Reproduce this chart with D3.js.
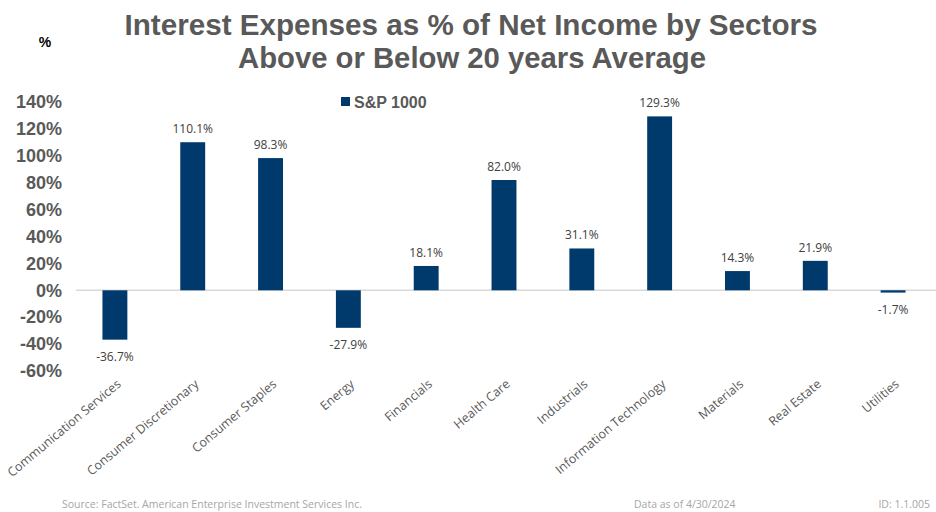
<!DOCTYPE html>
<html>
<head>
<meta charset="utf-8">
<script src="https://cdn.jsdelivr.net/npm/d3@7"></script>
<style>
  body { margin: 0; background: #fff; }
</style>
</head>
<body>
<div id="chart"></div>
<script>
// sectors and their values (% above/below 20y average)
var sectors = ["Communication Services", "Consumer Discretionary", "Consumer Staples", "Energy",
  "Financials", "Health Care", "Industrials", "Information Technology", "Materials", "Real Estate", "Utilities"];
var values = [-36.7, 110.1, 98.3, -27.9, 18.1, 82.0, 31.1, 129.3, 14.3, 21.9, -1.7];
var yTicks = [-60, -40, -20, 0, 20, 40, 60, 80, 100, 120, 140];
var seriesName = "S&P 1000";

var width = 936, height = 512;
var svg = d3.select("#chart").append("svg")
  .attr("width", width)
  .attr("height", height)
  .style("font-family", "'Liberation Sans', Arial, sans-serif");

var data = sectors.map(function(s, i) { return { sector: s, value: values[i] }; });

// scales
var x = d3.scaleBand()
  .domain(sectors)
  .range([76, 932])
  .paddingInner(0.68)
  .paddingOuter(0.34);

var y = d3.scaleLinear()
  .domain([-60, 140])
  .range([371, 102]);

// title
svg.append("text")
  .attr("x", 471).attr("y", 35)
  .attr("text-anchor", "middle")
  .attr("font-size", 29).attr("font-weight", "bold")
  .attr("fill", "#595959")
  .attr("textLength", 693).attr("lengthAdjust", "spacingAndGlyphs")
  .text("Interest Expenses  as % of Net Income by Sectors");
svg.append("text")
  .attr("x", 472).attr("y", 68)
  .attr("text-anchor", "middle")
  .attr("font-size", 29).attr("font-weight", "bold")
  .attr("fill", "#595959")
  .attr("textLength", 468).attr("lengthAdjust", "spacingAndGlyphs")
  .text("Above or Below 20 years Average");

// unit label
svg.append("text")
  .attr("x", 45).attr("y", 47)
  .attr("text-anchor", "middle")
  .attr("font-size", 14).attr("font-weight", "bold")
  .attr("fill", "#000")
  .text("%");

// y axis (labels only)
var yAxis = d3.axisLeft(y).tickValues(yTicks).tickSize(0).tickPadding(0)
  .tickFormat(function(d) { return d + "%"; });
var yg = svg.append("g").attr("transform", "translate(62,0)").call(yAxis);
yg.select(".domain").remove();
yg.selectAll("text")
  .style("font-family", "'Liberation Sans', Arial, sans-serif")
  .attr("font-size", 18).attr("font-weight", "bold")
  .attr("fill", "#595959");

// zero line
svg.append("line")
  .attr("x1", 76).attr("x2", 936)
  .attr("y1", y(0)).attr("y2", y(0))
  .attr("stroke", "#d9d9d9").attr("stroke-width", 1.5);

// bars
svg.selectAll("rect.bar")
  .data(data)
  .enter().append("rect")
  .attr("class", "bar")
  .attr("x", function(d) { return x(d.sector); })
  .attr("width", x.bandwidth())
  .attr("y", function(d) { return d.value >= 0 ? y(d.value) : y(0); })
  .attr("height", function(d) { return Math.abs(y(d.value) - y(0)); })
  .attr("fill", "#003A6C");

// data labels
svg.selectAll("text.val")
  .data(data)
  .enter().append("text")
  .attr("class", "val")
  .attr("x", function(d) { return x(d.sector) + x.bandwidth() / 2; })
  .attr("y", function(d) { return d.value >= 0 ? y(d.value) - 9 : y(d.value) + 21; })
  .attr("text-anchor", "middle")
  .style("font-family", "'Open Sans', sans-serif")
  .attr("font-size", 12)
  .attr("fill", "#404040")
  .text(function(d) { return d.value.toFixed(1) + "%"; });

// x axis labels, rotated
var xAxis = d3.axisBottom(x).tickSize(0).tickPadding(0);
var xg = svg.append("g").attr("transform", "translate(0,383)").call(xAxis);
xg.select(".domain").remove();
xg.selectAll("text")
  .style("font-family", "'Open Sans', sans-serif")
  .attr("font-size", 12.5)
  .attr("fill", "#595959")
  .attr("text-anchor", "end")
  .attr("dy", "0.35em")
  .attr("transform", "translate(4,-1) rotate(-40)");

// legend
svg.append("rect")
  .attr("x", 341).attr("y", 97)
  .attr("width", 9).attr("height", 9)
  .attr("fill", "#003A6C");
svg.append("text")
  .attr("x", 354).attr("y", 108)
  .attr("font-size", 16).attr("font-weight", "bold")
  .attr("fill", "#595959")
  .text(seriesName);

// footer
var footer = svg.append("g")
  .style("font-family", "'Open Sans', sans-serif")
  .attr("font-size", 10.5).attr("fill", "#a6a6a6");
footer.append("text")
  .attr("x", 62).attr("y", 508)
  .text("Source: FactSet. American Enterprise Investment Services Inc.");
footer.append("text")
  .attr("x", 634).attr("y", 508)
  .text("Data as of 4/30/2024");
footer.append("text")
  .attr("x", 930).attr("y", 508)
  .attr("text-anchor", "end")
  .text("ID: 1.1.005");
</script>
</body>
</html>
